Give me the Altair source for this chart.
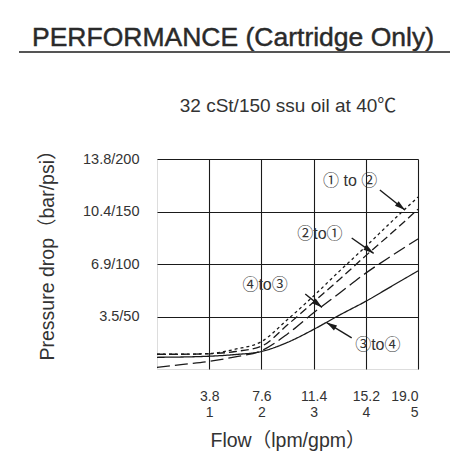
import json
import math
import altair as alt
import pandas as pd

# ---------------- data ----------------
flow_gpm = [0, 0.5, 1, 1.5, 2, 2.5, 3, 3.5, 4, 4.5, 5]
p_1to2 = [0.97, 0.97, 1.02, 1.3, 1.8, 3.25, 4.8, 6.45, 8.05, 9.7, 11.3]
p_2to1 = [0.97, 0.97, 1.0, 1.15, 1.5, 2.9, 4.4, 5.9, 7.45, 8.95, 10.5]
p_4to3 = [0.1, 0.3, 0.5, 0.8, 1.2, 2.3, 3.7, 5.0, 6.3, 7.45, 8.55]
p_3to4 = [0.77, 0.79, 0.84, 0.95, 1.15, 1.75, 2.6, 3.55, 4.45, 5.45, 6.45]
series_names = ["① to ②", "②to①", "④to③", "③to④"]
series_values = [p_1to2, p_2to1, p_4to3, p_3to4]

x_ticks = [1, 2, 3, 4, 5]
x_lpm_labels = ["3.8", "7.6", "11.4", "15.2", "19.0"]
x_gpm_labels = ["1", "2", "3", "4", "5"]
y_ticks = [3.45, 6.9, 10.35, 13.8]
y_tick_labels = ["3.5/50", "6.9/100", "10.4/150", "13.8/200"]

# annotation labels (position of text) and arrows (start -> tip)
label_x = [3.70, 3.12, 2.07, 4.23]
label_y = [12.35, 8.87, 5.52, 1.58]
arrow_x0 = [4.27, 3.73, 2.84, 3.73]
arrow_y0 = [11.76, 8.61, 4.93, 2.04]
arrow_x1 = [4.75, 4.15, 3.16, 3.25]
arrow_y1 = [10.45, 7.6, 4.05, 3.05]

title_text = "PERFORMANCE (Cartridge Only)"
subtitle_text = "32 cSt/150 ssu oil at 40℃"
x_title = "Flow（lpm/gpm）"
y_title = "Pressure drop（bar/psi）"

# ---------------- layout ----------------
W, H = 261, 210
X_MAX, Y_MAX = 5, 13.8
FONT = "Liberation Sans, Arial, Helvetica, Noto Sans CJK JP, sans-serif"
TXT = "#333333"
LINE = "#1a1a1a"

rows = []
for name, vals in zip(series_names, series_values):
    for x, y in zip(flow_gpm, vals):
        rows.append({"series": name, "flow": x, "p": y})
df = pd.DataFrame(rows)

dash_map = {
    "① to ②": [3, 3],
    "②to①": [8, 4],
    "④to③": [13, 5],
    "③to④": [1, 0],
}

x_scale = alt.Scale(domain=[0, X_MAX], nice=False, zero=True)
y_scale = alt.Scale(domain=[0, Y_MAX], nice=False, zero=True)

x_label_expr = (
    f"[{json.dumps([''] + x_lpm_labels)}[round(datum.value)], "
    f"{json.dumps([''] + x_gpm_labels)}[round(datum.value)]]"
)
y_label_expr = f"{json.dumps([''] + y_tick_labels)}[round(datum.value / 3.45)]"

x_axis = alt.Axis(
    values=x_ticks, grid=True, gridColor=LINE, gridWidth=1.1, gridOpacity=1,
    ticks=False, domain=False, labelExpr=x_label_expr,
    labelFont=FONT, labelFontSize=14, labelColor=TXT, labelPadding=20,
    labelLineHeight=16.5, labelBaseline="top",
    title=x_title, titleFont=FONT, titleFontSize=19.5, titleFontWeight="normal",
    titleColor=TXT, titlePadding=12,
)
y_axis = alt.Axis(
    values=y_ticks, grid=True, gridColor=LINE, gridWidth=1.1, gridOpacity=1,
    ticks=False, domain=False, labelExpr=y_label_expr,
    labelFont=FONT, labelFontSize=14.5, labelColor=TXT, labelPadding=18,
    title=y_title, titleFont=FONT, titleFontSize=19.5, titleFontWeight="normal",
    titleColor=TXT, titleY=91, titleX=-100,
)

curves = alt.Chart(df).mark_line(strokeWidth=1.3, color=LINE, interpolate="monotone").encode(
    x=alt.X("flow:Q", scale=x_scale, axis=x_axis),
    y=alt.Y("p:Q", scale=y_scale, axis=y_axis),
    detail="series:N",
    strokeDash=alt.StrokeDash(
        "series:N",
        scale=alt.Scale(domain=list(dash_map.keys()), range=list(dash_map.values())),
        legend=None,
    ),
)

lab_df = pd.DataFrame({"name": series_names, "x": label_x, "y": label_y})
labels = alt.Chart(lab_df).mark_text(font=FONT, fontSize=16, color=TXT).encode(
    x=alt.X("x:Q", scale=x_scale), y=alt.Y("y:Q", scale=y_scale), text="name:N"
)

angles = []
for xs, ys, xt, yt in zip(arrow_x0, arrow_y0, arrow_x1, arrow_y1):
    dx = (xt - xs) * W / X_MAX
    dy = -(yt - ys) * H / Y_MAX
    angles.append(math.degrees(math.atan2(dx, -dy)) % 360)
arr_df = pd.DataFrame({"x0": arrow_x0, "y0": arrow_y0, "x1": arrow_x1, "y1": arrow_y1, "ang": angles})

arrow_lines = alt.Chart(arr_df).mark_rule(strokeWidth=1.4, color=LINE).encode(
    x=alt.X("x0:Q", scale=x_scale), y=alt.Y("y0:Q", scale=y_scale), x2="x1:Q", y2="y1:Q"
)
arrow_heads = alt.Chart(arr_df).mark_point(
    shape="M0,0L0.75,2.6L-0.75,2.6Z", filled=True, size=64, color=LINE, opacity=1
).encode(
    x=alt.X("x1:Q", scale=x_scale), y=alt.Y("y1:Q", scale=y_scale), angle=alt.Angle("ang:Q", scale=None)
)

one = pd.DataFrame({"k": [0]})
title = alt.Chart(one).mark_text(
    text=title_text, font=FONT, fontSize=26.5, fontWeight="normal", color="#2a2a2a",
    stroke="#2a2a2a", strokeWidth=0.45, align="center", baseline="alphabetic"
).encode(x=alt.value(76), y=alt.value(-113))
subtitle = alt.Chart(one).mark_text(
    text=subtitle_text, font=FONT, fontSize=19, color=TXT, align="center", baseline="alphabetic"
).encode(x=alt.value(131), y=alt.value(-47))
sep = alt.Chart(one).mark_rule(color="#555555", strokeWidth=2).encode(
    x=alt.value(-138), x2=alt.value(293), y=alt.value(-107)
)

chart = alt.layer(curves, labels, arrow_lines, arrow_heads, title, subtitle, sep).properties(
    width=W, height=H,
    autosize=alt.AutoSizeParams(type="none"),
    padding={"left": 157, "top": 159, "right": 34, "bottom": 95},
).configure_view(stroke="#111111", strokeWidth=1.5).configure(background="white")

chart.save("out.html", embed_options={"renderer": "svg", "actions": False})
